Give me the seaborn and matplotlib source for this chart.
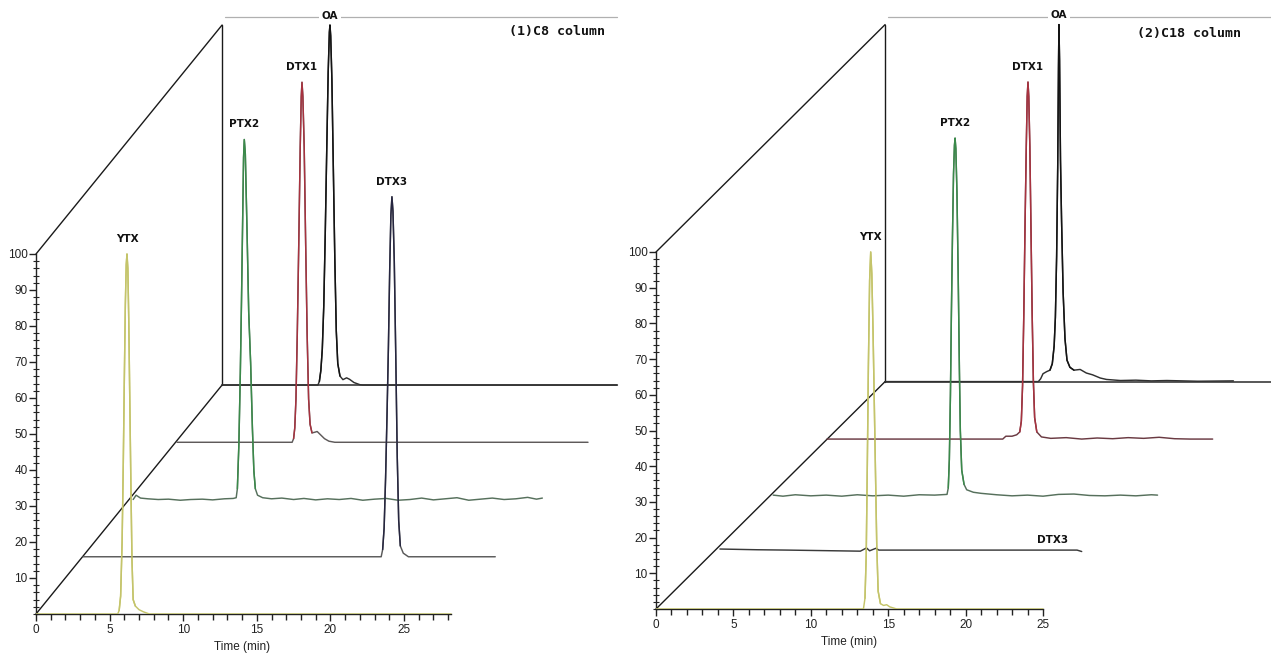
import numpy as np
import matplotlib
matplotlib.use("Agg")
import matplotlib.pyplot as plt
from matplotlib.ticker import FixedLocator
import seaborn as sns

# ---------------------------------------------------------------- data
compounds = ["YTX", "DTX3", "PTX2", "DTX1", "OA"]          # front -> back
panel_titles = ["(1)C8 column", "(2)C18 column"]
x_label = "Time (min)"
y_tick_values = [10, 20, 30, 40, 50, 60, 70, 80, 90, 100]
x_tick_values = [0, 5, 10, 15, 20, 25]

# (time read on the front time axis [min], signal above own baseline [%])
c8_ytx = [(0, 0), (5.55, 0), (5.65, 1), (5.75, 5), (5.85, 20), (5.93, 42), (6.0, 65),
          (6.07, 86), (6.13, 97), (6.18, 100), (6.24, 96), (6.3, 82), (6.37, 60),
          (6.44, 38), (6.52, 15), (6.6, 4), (6.75, 2.2), (7.0, 1.2), (7.3, 0.6),
          (7.7, 0), (28.2, 0)]
c8_dtx3 = [(3.2, 0), (23.45, 0), (23.55, 2), (23.65, 8), (23.75, 22), (23.85, 40),
           (23.94, 58), (24.03, 80), (24.11, 95), (24.18, 100), (24.25, 96),
           (24.34, 82), (24.44, 56), (24.54, 28), (24.64, 10), (24.75, 3),
           (24.95, 1), (25.3, 0), (31.2, 0)]
c8_ptx2 = [(6.6, 0.0), (6.8, 1.2), (7.1, 0.4), (7.6, 0.2), (8.3, 0.0), (9.0, 0.1),
           (9.8, -0.2), (10.5, 0.0), (11.3, 0.1), (12.0, -0.1), (12.8, 0.2),
           (13.4, 0.3), (13.6, 0.5), (13.68, 3), (13.78, 15), (13.88, 35),
           (13.96, 55), (14.03, 75), (14.1, 95), (14.15, 100), (14.22, 96),
           (14.34, 74), (14.45, 52), (14.58, 38), (14.7, 20), (14.8, 8), (14.9, 3),
           (15.05, 1.2), (15.4, 0.5), (16.0, 0.2), (16.7, 0.4), (17.5, 0.0),
           (18.2, 0.3), (19.0, -0.1), (19.8, 0.2), (20.6, 0.0), (21.4, 0.3),
           (22.2, -0.2), (23.0, 0.1), (23.8, 0.3), (24.6, -0.2), (25.4, 0.0),
           (26.2, 0.4), (27.0, -0.1), (27.8, 0.2), (28.6, 0.5), (29.4, -0.2),
           (30.2, 0.1), (31.0, 0.4), (31.8, 0.0), (32.6, 0.2), (33.4, 0.6),
           (34.0, 0.1), (34.4, 0.4)]
c8_dtx1 = [(9.58, 0), (17.4, 0), (17.5, 1), (17.58, 4), (17.66, 12), (17.75, 30),
           (17.85, 55), (17.95, 82), (18.02, 96), (18.07, 100), (18.13, 96),
           (18.22, 82), (18.32, 55), (18.42, 30), (18.52, 12), (18.62, 5),
           (18.75, 2.6), (18.95, 2.8), (19.1, 3.0), (19.3, 2.2), (19.6, 1.0),
           (19.9, 0.3), (20.3, 0), (37.5, 0)]
c8_oa = [(12.64, 0), (19.15, 0), (19.25, 1), (19.35, 4), (19.45, 10), (19.55, 22),
         (19.65, 42), (19.75, 65), (19.85, 87), (19.93, 98), (19.97, 100),
         (20.02, 97), (20.1, 85), (20.2, 60), (20.3, 35), (20.4, 15), (20.5, 6),
         (20.65, 2.5), (20.85, 1.5), (21.1, 2.0), (21.3, 1.6), (21.6, 0.7),
         (22.0, 0.1), (22.2, 0), (39.5, 0)]

c18_ytx = [(0, 0), (13.4, 0), (13.5, 3), (13.58, 15), (13.65, 40), (13.72, 68),
           (13.8, 92), (13.87, 100), (13.94, 94), (14.02, 78), (14.1, 58),
           (14.18, 38), (14.26, 18), (14.35, 5), (14.5, 1.5), (14.7, 1.0),
           (14.9, 1.2), (15.1, 0.6), (15.55, 0), (25.0, 0)]
c18_dtx3 = [(4.13, 0.3), (6.5, 0.1), (8.5, 0.0), (13.2, -0.3), (13.6, 0.6),
            (13.8, -0.2), (14.2, 0.5), (14.4, 0.0), (20.0, 0.0), (27.2, 0.0),
            (27.5, -0.4)]
c18_ptx2 = [(7.57, 0.0), (8.2, -0.3), (9.0, 0.1), (10.0, -0.2), (11.0, 0.0),
            (12.0, -0.3), (13.0, 0.1), (14.0, -0.2), (15.0, 0.0), (16.0, -0.3),
            (17.0, 0.1), (18.0, 0.0), (18.8, 0.2), (18.88, 2), (18.95, 10),
            (19.02, 28), (19.08, 50), (19.15, 72), (19.22, 90), (19.28, 98),
            (19.32, 100), (19.37, 97), (19.44, 85), (19.52, 62), (19.6, 35),
            (19.66, 18), (19.75, 7), (19.9, 3), (20.07, 1.5), (20.5, 0.8),
            (21.0, 0.5), (22.0, 0.1), (23.0, -0.2), (24.0, 0.0), (25.0, -0.3),
            (26.0, 0.2), (27.0, 0.3), (28.0, -0.1), (29.0, -0.2), (30.0, 0.0),
            (31.0, -0.2), (32.0, 0.1), (32.4, 0.0)]
c18_dtx1 = [(11.05, 0), (22.4, 0), (22.6, 0.8), (23.0, 0.8), (23.3, 1.2), (23.5, 2),
            (23.6, 5), (23.68, 15), (23.76, 35), (23.84, 60), (23.92, 82),
            (23.98, 96), (24.03, 100), (24.08, 96), (24.15, 82), (24.22, 60),
            (24.3, 35), (24.38, 16), (24.46, 6), (24.6, 2), (24.9, 0.6),
            (25.5, 0.2), (26.5, 0.4), (27.5, 0.0), (28.5, 0.3), (29.5, 0.1),
            (30.5, 0.4), (31.5, 0.2), (32.5, 0.5), (33.5, 0.1), (34.5, 0.0),
            (35.96, 0.0)]
c18_oa = [(14.8, 0), (24.7, 0), (24.85, 0.8), (25.0, 2.2), (25.24, 2.8), (25.45, 3.2),
          (25.6, 5), (25.72, 10), (25.8, 18), (25.88, 35), (25.95, 60), (26.0, 88),
          (26.03, 100), (26.07, 90), (26.13, 62), (26.2, 45), (26.3, 25),
          (26.42, 12), (26.55, 6), (26.74, 4), (27.0, 3.2), (27.4, 3.4),
          (27.8, 2.4), (28.2, 1.9), (28.7, 1.0), (29.1, 0.6), (30.0, 0.3),
          (31.0, 0.4), (32.0, 0.2), (33.0, 0.3), (35.0, 0.1), (37.3, 0.2)]

c8_traces = [c8_ytx, c8_dtx3, c8_ptx2, c8_dtx1, c8_oa]
c18_traces = [c18_ytx, c18_dtx3, c18_ptx2, c18_dtx1, c18_oa]

# ---------------------------------------------------------------- layout / style
peak_colors = ["#c4c46a", "#262640", "#3a8a4a", "#a8323f", "#141414"]
base_colors = ["#c4c46a", "#5a5a5a", "#56705c", "#5e5a5a", "#303030"]
W, H = 1271, 657
panels = [
    dict(ox=36, sx=14.72, oy=614, sy=3.6, dxs=[0, 3.19, 6.6, 9.58, 12.64],
         dys=[0, 15.9, 31.8, 47.7, 63.6], right_px=620, floor_end=39.5, xend=28.2,
         minor_max=28, title_xy=(35.4, 161.7), traces=c8_traces, label_override={},
         base_colors=base_colors),
    dict(ox=656, sx=15.48, oy=609, sy=3.57, dxs=[0, 4.13, 7.57, 11.05, 14.8],
         dys=[0, 16.5, 31.9, 47.6, 63.7], right_px=1271, floor_end=39.7, xend=25.0,
         minor_max=25, title_xy=(34.4, 161.3), traces=c18_traces,
         label_override={1: (25.65, 19.3)},
         base_colors=["#c4c46a", "#3a3a3a", "#56705c", "#6a3a42", "#303030"]),
]

sns.set_theme(style="white")
plt.rcParams["font.family"] = ["Liberation Sans", "DejaVu Sans"]

fig = plt.figure(figsize=(W / 100, H / 100), dpi=100)

for p, title in zip(panels, panel_titles):
    wpx = p["right_px"] - p["ox"]
    ax = fig.add_axes([p["ox"] / W, (H - p["oy"]) / H, wpx / W, p["oy"] / H])
    ax.set_facecolor("none")
    xmax = wpx / p["sx"]
    ymax = p["oy"] / p["sy"]

    bx, by = p["dxs"][-1], p["dys"][-1]
    box_kw = dict(color="#1a1a1a", lw=1.0, zorder=1, clip_on=False)
    ax.plot([0, bx], [0, by], **box_kw)
    ax.plot([0, bx], [100, by + 100], **box_kw)
    ax.plot([bx, bx], [by, by + 100], **box_kw)
    ax.plot([bx, p["floor_end"]], [by, by], color="#2a2a2a", lw=1.1, zorder=1,
            clip_on=False)
    ax.plot([bx + 0.2, p["floor_end"]], [by + 102.2, by + 102.2], color="#b0b0b0",
            lw=0.9, zorder=1, clip_on=False)

    for k, (tr, name) in enumerate(zip(p["traces"], compounds)):
        t = np.array([a for a, b in tr], dtype=float)
        s = np.array([b for a, b in tr], dtype=float)
        y = s + p["dys"][k]
        sns.lineplot(x=t, y=y, ax=ax, color=p["base_colors"][k], linewidth=1.05,
                     estimator=None, sort=False, legend=False, zorder=3)
        idx = np.where(s >= 4)[0]
        if len(idx):
            i0, i1 = max(idx[0] - 1, 0), min(idx[-1] + 2, len(t))
            apex = int(np.argmax(s))
            i1 = min(i1, apex + 12)
            sns.lineplot(x=t[i0:i1], y=y[i0:i1], ax=ax, color=peak_colors[k],
                         linewidth=1.05, estimator=None, sort=False, legend=False,
                         zorder=4)
        if k in p["label_override"]:
            lx, ly = p["label_override"][k]
        else:
            i = int(np.argmax(s))
            lx, ly = t[i], s[i] + p["dys"][k] + (2.6 if name == "OA" else 4.2)
        txt = ax.text(lx, ly, name, ha="center", va="center", fontsize=7.5,
                      fontweight="bold", color="#111111", zorder=5,
                      family=["DejaVu Sans"])
        if name == "OA":
            txt.set_bbox(dict(facecolor="white", edgecolor="none", pad=2.0))

    ax.text(p["title_xy"][0], p["title_xy"][1], title, ha="center", va="center",
            fontsize=9.5, fontweight="bold", family=["DejaVu Sans Mono"],
            color="#111111")

    ax.set_xlim(0, xmax)
    ax.set_ylim(0, ymax)
    for side in ["top", "right"]:
        ax.spines[side].set_visible(False)
    for side in ["left", "bottom"]:
        ax.spines[side].set_color("#222222")
        ax.spines[side].set_linewidth(1.0)
    ax.spines["bottom"].set_bounds(0, p["xend"])
    ax.spines["left"].set_bounds(0, 100)

    ax.xaxis.set_major_locator(FixedLocator(x_tick_values))
    ax.xaxis.set_minor_locator(FixedLocator(list(range(0, p["minor_max"] + 1))))
    ax.yaxis.set_major_locator(FixedLocator(y_tick_values))
    ax.yaxis.set_minor_locator(FixedLocator(list(range(0, 101, 2))))
    ax.tick_params(axis="x", which="major", direction="out", length=5, width=1,
                   color="#222222", labelsize=8.5, labelcolor="#222222", pad=2,
                   bottom=True)
    ax.tick_params(axis="x", which="minor", direction="out", length=4, width=1,
                   color="#222222", bottom=True)
    ax.tick_params(axis="y", which="major", direction="out", length=5, width=1,
                   color="#222222", labelsize=8.5, labelcolor="#222222", pad=1,
                   left=True)
    ax.tick_params(axis="y", which="minor", direction="inout", length=5, width=0.8,
                   color="#222222", left=True)
    ax.set_xlabel("")
    ax.set_ylabel("")
    ax.grid(False)
    ax.text(p["xend"] / 2 if p["xend"] < 26 else 14.0, -9.3, x_label, ha="center",
            va="center", fontsize=8.5, color="#222222", clip_on=False)

fig.savefig("out.png", dpi=100)
